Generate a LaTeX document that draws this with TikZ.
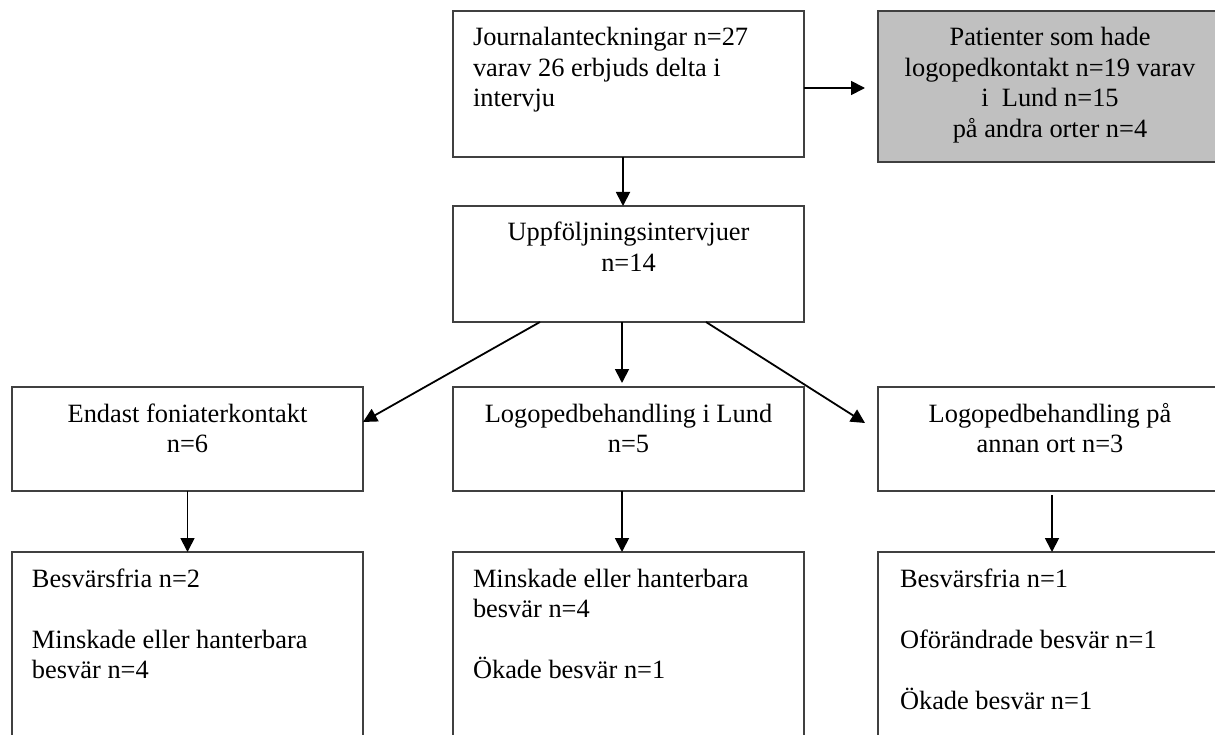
\documentclass[tikz,border=0pt]{standalone}
\usepackage{fontspec}
\setmainfont{Liberation Serif}
\usetikzlibrary{arrows.meta}
\definecolor{boxgray}{RGB}{192,192,192}
\begin{document}
\begin{tikzpicture}[x=1pt,y=-1pt,
  box/.style={draw=black!75, line width=1.2pt, inner sep=0pt, outer sep=0pt, anchor=north west,
    font=\fontsize{26.4}{30.5}\selectfont},
  arr/.style={line width=1.8pt, -{Triangle[length=14pt,width=14pt]}},
]
\useasboundingbox (0,0) rectangle (1215,735);
\clip (0,0) rectangle (1215,735);
\fill[white] (0,0) rectangle (1215,735);

% top row
\node[box] (b1) at (453,11) {\parbox[t][146pt][t]{351pt}{\raggedright\leftskip=20pt\relax
  \rule{0pt}{35pt}Journalanteckningar n=27\\varav 26 erbjuds delta i\\intervju}};
\node[box, fill=boxgray] (b2) at (878,11) {\parbox[t][151pt][t]{344pt}{\centering
  \rule{0pt}{35pt}Patienter som hade\\logopedkontakt n=19 varav\\i~ Lund n=15\\på andra orter n=4}};

% second row
\node[box] (b3) at (453,206) {\parbox[t][116pt][t]{351pt}{\centering
  \rule{0pt}{35pt}Uppföljningsintervjuer\\n=14}};

% third row
\node[box] (b4) at (12,387) {\parbox[t][104pt][t]{351pt}{\centering
  \rule{0pt}{35pt}Endast foniaterkontakt\\n=6}};
\node[box] (b5) at (453,387) {\parbox[t][104pt][t]{351pt}{\centering
  \rule{0pt}{35pt}Logopedbehandling i Lund\\n=5}};
\node[box] (b6) at (878,387) {\parbox[t][104pt][t]{344pt}{\centering
  \rule{0pt}{35pt}Logopedbehandling på\\annan ort n=3}};

% bottom row
\node[box] (b7) at (12,552) {\parbox[t][200pt][t]{351pt}{\raggedright\leftskip=20pt\relax
  \rule{0pt}{35pt}Besvärsfria n=2\\[30.5pt]Minskade eller hanterbara\\besvär n=4}};
\node[box] (b8) at (453,552) {\parbox[t][200pt][t]{351pt}{\raggedright\leftskip=20pt\relax
  \rule{0pt}{35pt}Minskade eller hanterbara\\besvär n=4\\[30.5pt]Ökade besvär n=1}};
\node[box] (b9) at (878,552) {\parbox[t][200pt][t]{344pt}{\raggedright\leftskip=22pt\relax
  \rule{0pt}{35pt}Besvärsfria n=1\\[30.5pt]Oförändrade besvär n=1\\[30.5pt]Ökade besvär n=1}};

% connectors
\draw[arr] ([yshift=-4pt]b1.east) -- ([yshift=-4pt,xshift=-13pt]b1.east -| b2.west);
\draw[arr] ([xshift=-5.5pt]b1.south) -- ([xshift=-5.5pt]b3.north);
\draw[arr] ([xshift=-6.5pt]b3.south) -- ([xshift=-6.5pt,yshift=4pt]b5.north);
\draw[arr] ([xshift=87pt]b3.south west) -- ([yshift=17pt]b4.east);
\draw[arr] ([xshift=-98pt]b3.south east) -- ([xshift=-13pt,yshift=16pt]b6.west);
\draw[arr] (b4.south) -- (b7.north);
\draw[arr] ([xshift=-6.5pt]b5.south) -- ([xshift=-6.5pt]b8.north);
\draw[arr] ([xshift=2pt,yshift=-4pt]b6.south) -- ([xshift=2pt]b9.north);
\end{tikzpicture}
\end{document}
